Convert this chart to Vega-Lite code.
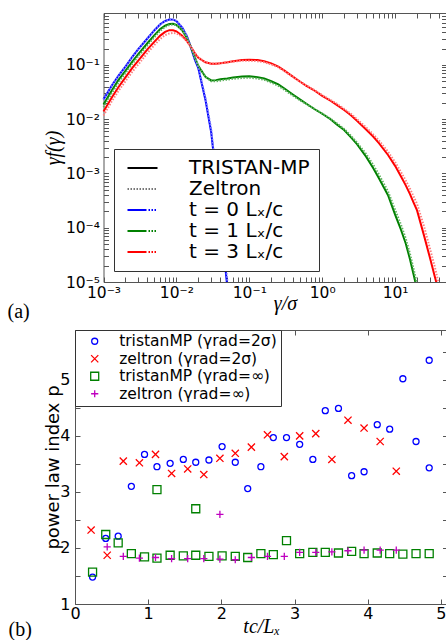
{
  "$schema": "https://vega.github.io/schema/vega-lite/v6.json",
  "padding": {"left": 7, "top": 6, "right": 0, "bottom": 0},
  "spacing": 7,
  "resolve": {"scale": {"color": "independent", "shape": "independent", "strokeDash": "independent", "stroke": "independent"}, "legend": {"color": "independent", "shape": "independent", "strokeDash": "independent", "stroke": "independent"}},
  "config": {
    "view": {"stroke": null},
    "axis": {"grid": false, "domainColor": "#555555", "tickColor": "#555555", "domainWidth": 1, "tickWidth": 1, "labelColor": "black", "labelFont": "DejaVu Sans", "labelOverlap": false, "labelFlush": false, "titleColor": "black", "titleFontWeight": "normal"},
    "legend": {"labelColor": "black", "labelFont": "DejaVu Sans", "labelLimit": 0}
  },
  "datasets": {
    "lines": [
      {"code": "T", "series": "T0", "x": 0.001, "y": 0.0232},
      {"code": "T", "series": "T0", "x": 0.0013, "y": 0.0417},
      {"code": "T", "series": "T0", "x": 0.0016, "y": 0.0631},
      {"code": "T", "series": "T0", "x": 0.002, "y": 0.0933},
      {"code": "T", "series": "T0", "x": 0.0025, "y": 0.143},
      {"code": "T", "series": "T0", "x": 0.003, "y": 0.195},
      {"code": "T", "series": "T0", "x": 0.004, "y": 0.307},
      {"code": "T", "series": "T0", "x": 0.005, "y": 0.437},
      {"code": "T", "series": "T0", "x": 0.006, "y": 0.562},
      {"code": "T", "series": "T0", "x": 0.007, "y": 0.646},
      {"code": "T", "series": "T0", "x": 0.008, "y": 0.689},
      {"code": "T", "series": "T0", "x": 0.009, "y": 0.684},
      {"code": "T", "series": "T0", "x": 0.01, "y": 0.646},
      {"code": "T", "series": "T0", "x": 0.012, "y": 0.49},
      {"code": "T", "series": "T0", "x": 0.014, "y": 0.331},
      {"code": "T", "series": "T0", "x": 0.016, "y": 0.2},
      {"code": "T", "series": "T0", "x": 0.018, "y": 0.123},
      {"code": "T", "series": "T0", "x": 0.02, "y": 0.0871},
      {"code": "T", "series": "T0", "x": 0.0225, "y": 0.0427},
      {"code": "T", "series": "T0", "x": 0.025, "y": 0.0229},
      {"code": "T", "series": "T0", "x": 0.03, "y": 0.00575},
      {"code": "T", "series": "T0", "x": 0.035, "y": 0.000891},
      {"code": "T", "series": "T0", "x": 0.04, "y": 0.000148},
      {"code": "T", "series": "T0", "x": 0.045, "y": 0.0000324},
      {"code": "T", "series": "T0", "x": 0.05, "y": 0.0000079},

      {"code": "Z", "series": "Z0", "x": 0.001, "y": 0.0229},
      {"code": "Z", "series": "Z0", "x": 0.0013, "y": 0.0412},
      {"code": "Z", "series": "Z0", "x": 0.0016, "y": 0.0625},
      {"code": "Z", "series": "Z0", "x": 0.002, "y": 0.0925},
      {"code": "Z", "series": "Z0", "x": 0.0025, "y": 0.141},
      {"code": "Z", "series": "Z0", "x": 0.003, "y": 0.193},
      {"code": "Z", "series": "Z0", "x": 0.004, "y": 0.304},
      {"code": "Z", "series": "Z0", "x": 0.005, "y": 0.433},
      {"code": "Z", "series": "Z0", "x": 0.006, "y": 0.557},
      {"code": "Z", "series": "Z0", "x": 0.007, "y": 0.641},
      {"code": "Z", "series": "Z0", "x": 0.008, "y": 0.685},
      {"code": "Z", "series": "Z0", "x": 0.009, "y": 0.682},
      {"code": "Z", "series": "Z0", "x": 0.01, "y": 0.648},
      {"code": "Z", "series": "Z0", "x": 0.012, "y": 0.497},
      {"code": "Z", "series": "Z0", "x": 0.014, "y": 0.339},
      {"code": "Z", "series": "Z0", "x": 0.016, "y": 0.207},
      {"code": "Z", "series": "Z0", "x": 0.018, "y": 0.128},
      {"code": "Z", "series": "Z0", "x": 0.02, "y": 0.0912},
      {"code": "Z", "series": "Z0", "x": 0.0225, "y": 0.0457},
      {"code": "Z", "series": "Z0", "x": 0.025, "y": 0.0251},
      {"code": "Z", "series": "Z0", "x": 0.03, "y": 0.0066},
      {"code": "Z", "series": "Z0", "x": 0.035, "y": 0.00105},
      {"code": "Z", "series": "Z0", "x": 0.04, "y": 0.000182},
      {"code": "Z", "series": "Z0", "x": 0.045, "y": 0.0000417},
      {"code": "Z", "series": "Z0", "x": 0.05, "y": 0.0000105},

      {"code": "T", "series": "T1", "x": 0.001, "y": 0.0186},
      {"code": "T", "series": "T1", "x": 0.0013, "y": 0.0339},
      {"code": "T", "series": "T1", "x": 0.0016, "y": 0.0525},
      {"code": "T", "series": "T1", "x": 0.002, "y": 0.0776},
      {"code": "T", "series": "T1", "x": 0.0025, "y": 0.116},
      {"code": "T", "series": "T1", "x": 0.003, "y": 0.158},
      {"code": "T", "series": "T1", "x": 0.004, "y": 0.251},
      {"code": "T", "series": "T1", "x": 0.005, "y": 0.355},
      {"code": "T", "series": "T1", "x": 0.006, "y": 0.457},
      {"code": "T", "series": "T1", "x": 0.007, "y": 0.531},
      {"code": "T", "series": "T1", "x": 0.008, "y": 0.571},
      {"code": "T", "series": "T1", "x": 0.009, "y": 0.575},
      {"code": "T", "series": "T1", "x": 0.01, "y": 0.55},
      {"code": "T", "series": "T1", "x": 0.012, "y": 0.437},
      {"code": "T", "series": "T1", "x": 0.014, "y": 0.309},
      {"code": "T", "series": "T1", "x": 0.016, "y": 0.204},
      {"code": "T", "series": "T1", "x": 0.018, "y": 0.135},
      {"code": "T", "series": "T1", "x": 0.02, "y": 0.0955},
      {"code": "T", "series": "T1", "x": 0.025, "y": 0.0603},
      {"code": "T", "series": "T1", "x": 0.03, "y": 0.0519},
      {"code": "T", "series": "T1", "x": 0.035, "y": 0.0525},
      {"code": "T", "series": "T1", "x": 0.04, "y": 0.0543},
      {"code": "T", "series": "T1", "x": 0.05, "y": 0.0562},
      {"code": "T", "series": "T1", "x": 0.06, "y": 0.0589},
      {"code": "T", "series": "T1", "x": 0.08, "y": 0.061},
      {"code": "T", "series": "T1", "x": 0.1, "y": 0.0617},
      {"code": "T", "series": "T1", "x": 0.13, "y": 0.0596},
      {"code": "T", "series": "T1", "x": 0.16, "y": 0.0562},
      {"code": "T", "series": "T1", "x": 0.2, "y": 0.0501},
      {"code": "T", "series": "T1", "x": 0.25, "y": 0.0437},
      {"code": "T", "series": "T1", "x": 0.3, "y": 0.0372},
      {"code": "T", "series": "T1", "x": 0.4, "y": 0.0282},
      {"code": "T", "series": "T1", "x": 0.5, "y": 0.0229},
      {"code": "T", "series": "T1", "x": 0.6, "y": 0.0195},
      {"code": "T", "series": "T1", "x": 0.8, "y": 0.0151},
      {"code": "T", "series": "T1", "x": 1, "y": 0.0126},
      {"code": "T", "series": "T1", "x": 1.3, "y": 0.01},
      {"code": "T", "series": "T1", "x": 1.6, "y": 0.00794},
      {"code": "T", "series": "T1", "x": 2, "y": 0.00631},
      {"code": "T", "series": "T1", "x": 2.5, "y": 0.00457},
      {"code": "T", "series": "T1", "x": 3, "y": 0.00347},
      {"code": "T", "series": "T1", "x": 4, "y": 0.00204},
      {"code": "T", "series": "T1", "x": 5, "y": 0.00126},
      {"code": "T", "series": "T1", "x": 6, "y": 0.000813},
      {"code": "T", "series": "T1", "x": 8, "y": 0.000398},
      {"code": "T", "series": "T1", "x": 10, "y": 0.000174},
      {"code": "T", "series": "T1", "x": 12, "y": 0.0000933},
      {"code": "T", "series": "T1", "x": 14, "y": 0.0000513},
      {"code": "T", "series": "T1", "x": 16, "y": 0.0000263},
      {"code": "T", "series": "T1", "x": 18, "y": 0.0000135},
      {"code": "T", "series": "T1", "x": 19, "y": 0.0000098},

      {"code": "Z", "series": "Z1", "x": 0.001, "y": 0.0166},
      {"code": "Z", "series": "Z1", "x": 0.0013, "y": 0.0302},
      {"code": "Z", "series": "Z1", "x": 0.0016, "y": 0.0468},
      {"code": "Z", "series": "Z1", "x": 0.002, "y": 0.0708},
      {"code": "Z", "series": "Z1", "x": 0.0025, "y": 0.106},
      {"code": "Z", "series": "Z1", "x": 0.003, "y": 0.145},
      {"code": "Z", "series": "Z1", "x": 0.004, "y": 0.229},
      {"code": "Z", "series": "Z1", "x": 0.005, "y": 0.327},
      {"code": "Z", "series": "Z1", "x": 0.006, "y": 0.427},
      {"code": "Z", "series": "Z1", "x": 0.007, "y": 0.501},
      {"code": "Z", "series": "Z1", "x": 0.008, "y": 0.543},
      {"code": "Z", "series": "Z1", "x": 0.009, "y": 0.556},
      {"code": "Z", "series": "Z1", "x": 0.01, "y": 0.537},
      {"code": "Z", "series": "Z1", "x": 0.012, "y": 0.437},
      {"code": "Z", "series": "Z1", "x": 0.014, "y": 0.316},
      {"code": "Z", "series": "Z1", "x": 0.016, "y": 0.209},
      {"code": "Z", "series": "Z1", "x": 0.018, "y": 0.138},
      {"code": "Z", "series": "Z1", "x": 0.02, "y": 0.0977},
      {"code": "Z", "series": "Z1", "x": 0.025, "y": 0.0603},
      {"code": "Z", "series": "Z1", "x": 0.03, "y": 0.0501},
      {"code": "Z", "series": "Z1", "x": 0.035, "y": 0.0501},
      {"code": "Z", "series": "Z1", "x": 0.04, "y": 0.0513},
      {"code": "Z", "series": "Z1", "x": 0.05, "y": 0.0537},
      {"code": "Z", "series": "Z1", "x": 0.06, "y": 0.0556},
      {"code": "Z", "series": "Z1", "x": 0.08, "y": 0.0575},
      {"code": "Z", "series": "Z1", "x": 0.1, "y": 0.0582},
      {"code": "Z", "series": "Z1", "x": 0.13, "y": 0.0562},
      {"code": "Z", "series": "Z1", "x": 0.16, "y": 0.0531},
      {"code": "Z", "series": "Z1", "x": 0.2, "y": 0.0473},
      {"code": "Z", "series": "Z1", "x": 0.25, "y": 0.0412},
      {"code": "Z", "series": "Z1", "x": 0.3, "y": 0.0351},
      {"code": "Z", "series": "Z1", "x": 0.4, "y": 0.0269},
      {"code": "Z", "series": "Z1", "x": 0.5, "y": 0.0221},
      {"code": "Z", "series": "Z1", "x": 0.6, "y": 0.0191},
      {"code": "Z", "series": "Z1", "x": 0.8, "y": 0.0151},
      {"code": "Z", "series": "Z1", "x": 1, "y": 0.0127},
      {"code": "Z", "series": "Z1", "x": 1.3, "y": 0.0102},
      {"code": "Z", "series": "Z1", "x": 1.6, "y": 0.00832},
      {"code": "Z", "series": "Z1", "x": 2, "y": 0.00661},
      {"code": "Z", "series": "Z1", "x": 2.5, "y": 0.0049},
      {"code": "Z", "series": "Z1", "x": 3, "y": 0.00372},
      {"code": "Z", "series": "Z1", "x": 4, "y": 0.00229},
      {"code": "Z", "series": "Z1", "x": 5, "y": 0.00145},
      {"code": "Z", "series": "Z1", "x": 6, "y": 0.000955},
      {"code": "Z", "series": "Z1", "x": 8, "y": 0.000468},
      {"code": "Z", "series": "Z1", "x": 10, "y": 0.000214},
      {"code": "Z", "series": "Z1", "x": 12, "y": 0.000115},
      {"code": "Z", "series": "Z1", "x": 14, "y": 0.0000631},
      {"code": "Z", "series": "Z1", "x": 16, "y": 0.0000331},
      {"code": "Z", "series": "Z1", "x": 18, "y": 0.000017},
      {"code": "Z", "series": "Z1", "x": 20, "y": 0.0000093},

      {"code": "T", "series": "T3", "x": 0.001, "y": 0.0139},
      {"code": "T", "series": "T3", "x": 0.0013, "y": 0.0251},
      {"code": "T", "series": "T3", "x": 0.0016, "y": 0.0389},
      {"code": "T", "series": "T3", "x": 0.002, "y": 0.0589},
      {"code": "T", "series": "T3", "x": 0.0025, "y": 0.0891},
      {"code": "T", "series": "T3", "x": 0.003, "y": 0.12},
      {"code": "T", "series": "T3", "x": 0.004, "y": 0.193},
      {"code": "T", "series": "T3", "x": 0.005, "y": 0.269},
      {"code": "T", "series": "T3", "x": 0.006, "y": 0.347},
      {"code": "T", "series": "T3", "x": 0.007, "y": 0.407},
      {"code": "T", "series": "T3", "x": 0.008, "y": 0.437},
      {"code": "T", "series": "T3", "x": 0.009, "y": 0.437},
      {"code": "T", "series": "T3", "x": 0.01, "y": 0.417},
      {"code": "T", "series": "T3", "x": 0.012, "y": 0.347},
      {"code": "T", "series": "T3", "x": 0.014, "y": 0.275},
      {"code": "T", "series": "T3", "x": 0.016, "y": 0.209},
      {"code": "T", "series": "T3", "x": 0.018, "y": 0.162},
      {"code": "T", "series": "T3", "x": 0.02, "y": 0.135},
      {"code": "T", "series": "T3", "x": 0.025, "y": 0.112},
      {"code": "T", "series": "T3", "x": 0.03, "y": 0.105},
      {"code": "T", "series": "T3", "x": 0.035, "y": 0.105},
      {"code": "T", "series": "T3", "x": 0.04, "y": 0.107},
      {"code": "T", "series": "T3", "x": 0.05, "y": 0.112},
      {"code": "T", "series": "T3", "x": 0.06, "y": 0.117},
      {"code": "T", "series": "T3", "x": 0.08, "y": 0.123},
      {"code": "T", "series": "T3", "x": 0.1, "y": 0.124},
      {"code": "T", "series": "T3", "x": 0.13, "y": 0.123},
      {"code": "T", "series": "T3", "x": 0.16, "y": 0.117},
      {"code": "T", "series": "T3", "x": 0.2, "y": 0.107},
      {"code": "T", "series": "T3", "x": 0.25, "y": 0.0933},
      {"code": "T", "series": "T3", "x": 0.3, "y": 0.0794},
      {"code": "T", "series": "T3", "x": 0.4, "y": 0.0603},
      {"code": "T", "series": "T3", "x": 0.5, "y": 0.049},
      {"code": "T", "series": "T3", "x": 0.6, "y": 0.0417},
      {"code": "T", "series": "T3", "x": 0.8, "y": 0.0331},
      {"code": "T", "series": "T3", "x": 1, "y": 0.0269},
      {"code": "T", "series": "T3", "x": 1.3, "y": 0.0219},
      {"code": "T", "series": "T3", "x": 1.6, "y": 0.0182},
      {"code": "T", "series": "T3", "x": 2, "y": 0.0148},
      {"code": "T", "series": "T3", "x": 2.5, "y": 0.0117},
      {"code": "T", "series": "T3", "x": 3, "y": 0.00933},
      {"code": "T", "series": "T3", "x": 4, "y": 0.00646},
      {"code": "T", "series": "T3", "x": 5, "y": 0.00479},
      {"code": "T", "series": "T3", "x": 6, "y": 0.00363},
      {"code": "T", "series": "T3", "x": 8, "y": 0.00219},
      {"code": "T", "series": "T3", "x": 10, "y": 0.00138},
      {"code": "T", "series": "T3", "x": 12, "y": 0.000891},
      {"code": "T", "series": "T3", "x": 14, "y": 0.000603},
      {"code": "T", "series": "T3", "x": 16, "y": 0.000417},
      {"code": "T", "series": "T3", "x": 18, "y": 0.000288},
      {"code": "T", "series": "T3", "x": 20, "y": 0.000209},
      {"code": "T", "series": "T3", "x": 25, "y": 0.0000708},
      {"code": "T", "series": "T3", "x": 30, "y": 0.0000282},
      {"code": "T", "series": "T3", "x": 35, "y": 0.0000126},
      {"code": "T", "series": "T3", "x": 37, "y": 0.0000095},

      {"code": "Z", "series": "Z3", "x": 0.001, "y": 0.0117},
      {"code": "Z", "series": "Z3", "x": 0.0013, "y": 0.0214},
      {"code": "Z", "series": "Z3", "x": 0.0016, "y": 0.0331},
      {"code": "Z", "series": "Z3", "x": 0.002, "y": 0.0501},
      {"code": "Z", "series": "Z3", "x": 0.0025, "y": 0.0759},
      {"code": "Z", "series": "Z3", "x": 0.003, "y": 0.102},
      {"code": "Z", "series": "Z3", "x": 0.004, "y": 0.166},
      {"code": "Z", "series": "Z3", "x": 0.005, "y": 0.234},
      {"code": "Z", "series": "Z3", "x": 0.006, "y": 0.302},
      {"code": "Z", "series": "Z3", "x": 0.007, "y": 0.355},
      {"code": "Z", "series": "Z3", "x": 0.008, "y": 0.38},
      {"code": "Z", "series": "Z3", "x": 0.009, "y": 0.389},
      {"code": "Z", "series": "Z3", "x": 0.01, "y": 0.38},
      {"code": "Z", "series": "Z3", "x": 0.012, "y": 0.331},
      {"code": "Z", "series": "Z3", "x": 0.014, "y": 0.269},
      {"code": "Z", "series": "Z3", "x": 0.016, "y": 0.209},
      {"code": "Z", "series": "Z3", "x": 0.018, "y": 0.166},
      {"code": "Z", "series": "Z3", "x": 0.02, "y": 0.138},
      {"code": "Z", "series": "Z3", "x": 0.025, "y": 0.112},
      {"code": "Z", "series": "Z3", "x": 0.03, "y": 0.106},
      {"code": "Z", "series": "Z3", "x": 0.035, "y": 0.106},
      {"code": "Z", "series": "Z3", "x": 0.04, "y": 0.107},
      {"code": "Z", "series": "Z3", "x": 0.05, "y": 0.111},
      {"code": "Z", "series": "Z3", "x": 0.06, "y": 0.115},
      {"code": "Z", "series": "Z3", "x": 0.08, "y": 0.119},
      {"code": "Z", "series": "Z3", "x": 0.1, "y": 0.12},
      {"code": "Z", "series": "Z3", "x": 0.13, "y": 0.117},
      {"code": "Z", "series": "Z3", "x": 0.16, "y": 0.112},
      {"code": "Z", "series": "Z3", "x": 0.2, "y": 0.102},
      {"code": "Z", "series": "Z3", "x": 0.25, "y": 0.0902},
      {"code": "Z", "series": "Z3", "x": 0.3, "y": 0.0776},
      {"code": "Z", "series": "Z3", "x": 0.4, "y": 0.0596},
      {"code": "Z", "series": "Z3", "x": 0.5, "y": 0.049},
      {"code": "Z", "series": "Z3", "x": 0.6, "y": 0.0422},
      {"code": "Z", "series": "Z3", "x": 0.8, "y": 0.0339},
      {"code": "Z", "series": "Z3", "x": 1, "y": 0.0279},
      {"code": "Z", "series": "Z3", "x": 1.3, "y": 0.0226},
      {"code": "Z", "series": "Z3", "x": 1.6, "y": 0.0191},
      {"code": "Z", "series": "Z3", "x": 2, "y": 0.0155},
      {"code": "Z", "series": "Z3", "x": 2.5, "y": 0.0124},
      {"code": "Z", "series": "Z3", "x": 3, "y": 0.01},
      {"code": "Z", "series": "Z3", "x": 4, "y": 0.00708},
      {"code": "Z", "series": "Z3", "x": 5, "y": 0.00525},
      {"code": "Z", "series": "Z3", "x": 6, "y": 0.00407},
      {"code": "Z", "series": "Z3", "x": 8, "y": 0.00251},
      {"code": "Z", "series": "Z3", "x": 10, "y": 0.00162},
      {"code": "Z", "series": "Z3", "x": 12, "y": 0.00107},
      {"code": "Z", "series": "Z3", "x": 14, "y": 0.000741},
      {"code": "Z", "series": "Z3", "x": 16, "y": 0.000525},
      {"code": "Z", "series": "Z3", "x": 18, "y": 0.000372},
      {"code": "Z", "series": "Z3", "x": 20, "y": 0.000275},
      {"code": "Z", "series": "Z3", "x": 25, "y": 0.000105},
      {"code": "Z", "series": "Z3", "x": 30, "y": 0.0000417},
      {"code": "Z", "series": "Z3", "x": 35, "y": 0.0000191},
      {"code": "Z", "series": "Z3", "x": 40, "y": 0.0000089}
    ],
    "pts": [
      {"rad": "2s", "series": "tristanMP (γrad=2σ)", "t": 0.24, "p": 1.48},
      {"rad": "2s", "series": "tristanMP (γrad=2σ)", "t": 0.42, "p": 2.17},
      {"rad": "2s", "series": "tristanMP (γrad=2σ)", "t": 0.59, "p": 2.21},
      {"rad": "2s", "series": "tristanMP (γrad=2σ)", "t": 0.77, "p": 3.1},
      {"rad": "2s", "series": "tristanMP (γrad=2σ)", "t": 0.95, "p": 3.67},
      {"rad": "2s", "series": "tristanMP (γrad=2σ)", "t": 1.12, "p": 3.45},
      {"rad": "2s", "series": "tristanMP (γrad=2σ)", "t": 1.3, "p": 3.51},
      {"rad": "2s", "series": "tristanMP (γrad=2σ)", "t": 1.48, "p": 3.58},
      {"rad": "2s", "series": "tristanMP (γrad=2σ)", "t": 1.65, "p": 3.53},
      {"rad": "2s", "series": "tristanMP (γrad=2σ)", "t": 1.83, "p": 3.57},
      {"rad": "2s", "series": "tristanMP (γrad=2σ)", "t": 2.01, "p": 3.81},
      {"rad": "2s", "series": "tristanMP (γrad=2σ)", "t": 2.19, "p": 3.53},
      {"rad": "2s", "series": "tristanMP (γrad=2σ)", "t": 2.36, "p": 3.06},
      {"rad": "2s", "series": "tristanMP (γrad=2σ)", "t": 2.54, "p": 3.45},
      {"rad": "2s", "series": "tristanMP (γrad=2σ)", "t": 2.71, "p": 3.97},
      {"rad": "2s", "series": "tristanMP (γrad=2σ)", "t": 2.89, "p": 3.97},
      {"rad": "2s", "series": "tristanMP (γrad=2σ)", "t": 3.07, "p": 3.85},
      {"rad": "2s", "series": "tristanMP (γrad=2σ)", "t": 3.25, "p": 3.58},
      {"rad": "2s", "series": "tristanMP (γrad=2σ)", "t": 3.42, "p": 4.45},
      {"rad": "2s", "series": "tristanMP (γrad=2σ)", "t": 3.6, "p": 4.49},
      {"rad": "2s", "series": "tristanMP (γrad=2σ)", "t": 3.78, "p": 3.29},
      {"rad": "2s", "series": "tristanMP (γrad=2σ)", "t": 3.95, "p": 3.36},
      {"rad": "2s", "series": "tristanMP (γrad=2σ)", "t": 4.13, "p": 4.2},
      {"rad": "2s", "series": "tristanMP (γrad=2σ)", "t": 4.3, "p": 4.12},
      {"rad": "2s", "series": "tristanMP (γrad=2σ)", "t": 4.48, "p": 5.02},
      {"rad": "2s", "series": "tristanMP (γrad=2σ)", "t": 4.66, "p": 3.9},
      {"rad": "2s", "series": "tristanMP (γrad=2σ)", "t": 4.84, "p": 5.35},
      {"rad": "2s", "series": "tristanMP (γrad=2σ)", "t": 4.84, "p": 3.43},
      {"rad": "2s", "series": "zeltron (γrad=2σ)", "t": 0.22, "p": 2.32},
      {"rad": "2s", "series": "zeltron (γrad=2σ)", "t": 0.44, "p": 1.87},
      {"rad": "2s", "series": "zeltron (γrad=2σ)", "t": 0.66, "p": 3.55},
      {"rad": "2s", "series": "zeltron (γrad=2σ)", "t": 0.88, "p": 3.52},
      {"rad": "2s", "series": "zeltron (γrad=2σ)", "t": 1.1, "p": 3.67},
      {"rad": "2s", "series": "zeltron (γrad=2σ)", "t": 1.32, "p": 3.33},
      {"rad": "2s", "series": "zeltron (γrad=2σ)", "t": 1.54, "p": 3.41},
      {"rad": "2s", "series": "zeltron (γrad=2σ)", "t": 1.76, "p": 3.31},
      {"rad": "2s", "series": "zeltron (γrad=2σ)", "t": 1.98, "p": 3.6},
      {"rad": "2s", "series": "zeltron (γrad=2σ)", "t": 2.19, "p": 3.69},
      {"rad": "2s", "series": "zeltron (γrad=2σ)", "t": 2.41, "p": 3.8},
      {"rad": "2s", "series": "zeltron (γrad=2σ)", "t": 2.63, "p": 4.02},
      {"rad": "2s", "series": "zeltron (γrad=2σ)", "t": 2.86, "p": 3.63},
      {"rad": "2s", "series": "zeltron (γrad=2σ)", "t": 3.07, "p": 4.0},
      {"rad": "2s", "series": "zeltron (γrad=2σ)", "t": 3.29, "p": 4.04},
      {"rad": "2s", "series": "zeltron (γrad=2σ)", "t": 3.51, "p": 3.58},
      {"rad": "2s", "series": "zeltron (γrad=2σ)", "t": 3.73, "p": 4.28},
      {"rad": "2s", "series": "zeltron (γrad=2σ)", "t": 3.95, "p": 4.14},
      {"rad": "2s", "series": "zeltron (γrad=2σ)", "t": 4.17, "p": 3.9},
      {"rad": "2s", "series": "zeltron (γrad=2σ)", "t": 4.39, "p": 3.37},
      {"rad": "inf", "series": "tristanMP (γrad=∞)", "t": 0.24, "p": 1.57},
      {"rad": "inf", "series": "tristanMP (γrad=∞)", "t": 0.42, "p": 2.24},
      {"rad": "inf", "series": "tristanMP (γrad=∞)", "t": 0.59, "p": 2.09},
      {"rad": "inf", "series": "tristanMP (γrad=∞)", "t": 0.77, "p": 1.9},
      {"rad": "inf", "series": "tristanMP (γrad=∞)", "t": 0.95, "p": 1.84},
      {"rad": "inf", "series": "tristanMP (γrad=∞)", "t": 1.12, "p": 3.04},
      {"rad": "inf", "series": "tristanMP (γrad=∞)", "t": 1.12, "p": 1.82},
      {"rad": "inf", "series": "tristanMP (γrad=∞)", "t": 1.3, "p": 1.87},
      {"rad": "inf", "series": "tristanMP (γrad=∞)", "t": 1.48, "p": 1.86},
      {"rad": "inf", "series": "tristanMP (γrad=∞)", "t": 1.65, "p": 1.87},
      {"rad": "inf", "series": "tristanMP (γrad=∞)", "t": 1.65, "p": 2.7},
      {"rad": "inf", "series": "tristanMP (γrad=∞)", "t": 1.83, "p": 1.85},
      {"rad": "inf", "series": "tristanMP (γrad=∞)", "t": 2.01, "p": 1.86},
      {"rad": "inf", "series": "tristanMP (γrad=∞)", "t": 2.19, "p": 1.85},
      {"rad": "inf", "series": "tristanMP (γrad=∞)", "t": 2.36, "p": 1.83},
      {"rad": "inf", "series": "tristanMP (γrad=∞)", "t": 2.54, "p": 1.9},
      {"rad": "inf", "series": "tristanMP (γrad=∞)", "t": 2.71, "p": 1.88},
      {"rad": "inf", "series": "tristanMP (γrad=∞)", "t": 2.89, "p": 2.13},
      {"rad": "inf", "series": "tristanMP (γrad=∞)", "t": 3.07, "p": 1.9},
      {"rad": "inf", "series": "tristanMP (γrad=∞)", "t": 3.25, "p": 1.92},
      {"rad": "inf", "series": "tristanMP (γrad=∞)", "t": 3.42, "p": 1.92},
      {"rad": "inf", "series": "tristanMP (γrad=∞)", "t": 3.6, "p": 1.91},
      {"rad": "inf", "series": "tristanMP (γrad=∞)", "t": 3.78, "p": 1.94},
      {"rad": "inf", "series": "tristanMP (γrad=∞)", "t": 3.95, "p": 1.9},
      {"rad": "inf", "series": "tristanMP (γrad=∞)", "t": 4.13, "p": 1.91},
      {"rad": "inf", "series": "tristanMP (γrad=∞)", "t": 4.3, "p": 1.9},
      {"rad": "inf", "series": "tristanMP (γrad=∞)", "t": 4.48, "p": 1.89},
      {"rad": "inf", "series": "tristanMP (γrad=∞)", "t": 4.66, "p": 1.9},
      {"rad": "inf", "series": "tristanMP (γrad=∞)", "t": 4.84, "p": 1.9},
      {"rad": "inf", "series": "zeltron (γrad=∞)", "t": 0.22, "p": 4.61},
      {"rad": "inf", "series": "zeltron (γrad=∞)", "t": 0.44, "p": 2.02},
      {"rad": "inf", "series": "zeltron (γrad=∞)", "t": 0.66, "p": 1.85},
      {"rad": "inf", "series": "zeltron (γrad=∞)", "t": 0.88, "p": 1.82},
      {"rad": "inf", "series": "zeltron (γrad=∞)", "t": 1.1, "p": 1.83},
      {"rad": "inf", "series": "zeltron (γrad=∞)", "t": 1.32, "p": 1.81},
      {"rad": "inf", "series": "zeltron (γrad=∞)", "t": 1.54, "p": 1.81},
      {"rad": "inf", "series": "zeltron (γrad=∞)", "t": 1.76, "p": 1.81},
      {"rad": "inf", "series": "zeltron (γrad=∞)", "t": 1.98, "p": 2.6},
      {"rad": "inf", "series": "zeltron (γrad=∞)", "t": 1.98, "p": 1.8},
      {"rad": "inf", "series": "zeltron (γrad=∞)", "t": 2.19, "p": 1.79},
      {"rad": "inf", "series": "zeltron (γrad=∞)", "t": 2.41, "p": 1.83},
      {"rad": "inf", "series": "zeltron (γrad=∞)", "t": 2.63, "p": 1.85},
      {"rad": "inf", "series": "zeltron (γrad=∞)", "t": 2.86, "p": 1.85},
      {"rad": "inf", "series": "zeltron (γrad=∞)", "t": 3.07, "p": 1.92},
      {"rad": "inf", "series": "zeltron (γrad=∞)", "t": 3.29, "p": 1.92},
      {"rad": "inf", "series": "zeltron (γrad=∞)", "t": 3.51, "p": 1.93},
      {"rad": "inf", "series": "zeltron (γrad=∞)", "t": 3.73, "p": 1.95},
      {"rad": "inf", "series": "zeltron (γrad=∞)", "t": 3.95, "p": 1.96},
      {"rad": "inf", "series": "zeltron (γrad=∞)", "t": 4.17, "p": 1.96},
      {"rad": "inf", "series": "zeltron (γrad=∞)", "t": 4.39, "p": 1.96}
    ]
  },
  "vconcat": [
    {
      "width": 371.5,
      "height": 269,
      "title": {"text": "(a)", "orient": "bottom", "anchor": "start", "frame": "bounds", "dx": -36, "offset": 5, "baseline": "alphabetic", "font": "Liberation Serif", "fontSize": 20, "fontWeight": "normal", "color": "black"},
      "resolve": {"axis": {"x": "independent", "y": "independent"}},
      "layer": [
        {
          "data": {"name": "lines"},
          "transform": [{"filter": "datum.code == 'T'"}],
          "mark": {"type": "line", "strokeWidth": 2, "clip": true},
          "encoding": {
            "x": {"field": "x", "type": "quantitative", "scale": {"type": "log", "domain": [0.001, 50.7], "range": [28.5, 371.5], "nice": false},
              "axis": {"orient": "bottom", "values": [0.001,0.002,0.003,0.004,0.005,0.006,0.007,0.008,0.009,0.01,0.02,0.03,0.04,0.05,0.06,0.07,0.08,0.09,0.1,0.2,0.3,0.4,0.5,0.6,0.7,0.8,0.9,1,2,3,4,5,6,7,8,9,10,20,30,40,50],
                "labelExpr": "datum.value == 0.001 ? '10⁻³' : datum.value == 0.01 ? '10⁻²' : datum.value == 0.1 ? '10⁻¹' : datum.value == 1 ? '10⁰' : datum.value == 10 ? '10¹' : ''",
                "tickSize": -5, "labelPadding": 8, "labelFontSize": 15.5,
                "title": "γ/σ", "titleFont": "Liberation Serif", "titleFontStyle": "italic", "titleFontSize": 20, "titleX": 210, "titleY": 27, "titleBaseline": "alphabetic",
                "encode": {"ticks": {"update": {"y2": {"signal": "indexof([0.001,0.01,0.1,1,10], datum.value) >= 0 ? -5 : -2.5"}}},
                           "labels": {"update": {"fontSize": {"signal": "indexof([0.001,0.01,0.1,1,10], datum.value) >= 0 ? 15.5 : 0"}}}}}},
            "y": {"field": "y", "type": "quantitative", "scale": {"type": "log", "domain": [0.00001, 0.906], "nice": false},
              "axis": {"orient": "left", "offset": -28.5, "values": [0.00001,0.00002,0.00003,0.00004,0.00005,0.00006,0.00007,0.00008,0.00009,0.0001,0.0002,0.0003,0.0004,0.0005,0.0006,0.0007,0.0008,0.0009,0.001,0.002,0.003,0.004,0.005,0.006,0.007,0.008,0.009,0.01,0.02,0.03,0.04,0.05,0.06,0.07,0.08,0.09,0.1,0.2,0.3,0.4,0.5,0.6,0.7,0.8,0.9],
                "labelExpr": "datum.value == 0.00001 ? '10⁻⁵' : datum.value == 0.0001 ? '10⁻⁴' : datum.value == 0.001 ? '10⁻³' : datum.value == 0.01 ? '10⁻²' : datum.value == 0.1 ? '10⁻¹' : ''",
                "tickSize": -5, "labelPadding": 9, "labelFontSize": 15.5,
                "title": "γf(γ)", "titleFont": "Liberation Serif", "titleFontStyle": "italic", "titleFontSize": 20, "titleX": -50, "titleBaseline": "middle",
                "encode": {"ticks": {"update": {"x2": {"signal": "indexof([0.00001,0.0001,0.001,0.01,0.1], datum.value) >= 0 ? 5 : 2.5"}}},
                           "labels": {"update": {"fontSize": {"signal": "indexof([0.00001,0.0001,0.001,0.01,0.1], datum.value) >= 0 ? 15.5 : 0"}}}}}},
            "stroke": {"field": "series", "type": "nominal", "scale": {"domain": ["T0","T1","T3","Z0","Z1","Z3"], "range": ["#0000ff","#008000","#ff0000","#7f7fff","#5fb35f","#ff7f7f"]}, "legend": null}
          }
        },
        {
          "data": {"name": "lines"},
          "transform": [{"filter": "datum.code == 'Z'"}],
          "mark": {"type": "line", "strokeWidth": 2, "strokeDash": [1.5, 1.5], "clip": true},
          "encoding": {
            "x": {"field": "x", "type": "quantitative", "scale": {"type": "log", "domain": [0.001, 50.7], "range": [28.5, 371.5], "nice": false},
              "axis": {"orient": "top", "values": [0.001,0.002,0.003,0.004,0.005,0.006,0.007,0.008,0.009,0.01,0.02,0.03,0.04,0.05,0.06,0.07,0.08,0.09,0.1,0.2,0.3,0.4,0.5,0.6,0.7,0.8,0.9,1,2,3,4,5,6,7,8,9,10,20,30,40,50],
                "labels": false, "tickSize": -5, "title": null,
                "encode": {"ticks": {"update": {"y2": {"signal": "indexof([0.001,0.01,0.1,1,10], datum.value) >= 0 ? 5 : 2.5"}}}}}},
            "y": {"field": "y", "type": "quantitative", "scale": {"type": "log", "domain": [0.00001, 0.906], "nice": false},
              "axis": {"orient": "right", "values": [0.00001,0.00002,0.00003,0.00004,0.00005,0.00006,0.00007,0.00008,0.00009,0.0001,0.0002,0.0003,0.0004,0.0005,0.0006,0.0007,0.0008,0.0009,0.001,0.002,0.003,0.004,0.005,0.006,0.007,0.008,0.009,0.01,0.02,0.03,0.04,0.05,0.06,0.07,0.08,0.09,0.1,0.2,0.3,0.4,0.5,0.6,0.7,0.8,0.9],
                "labels": false, "tickSize": -5, "title": null,
                "encode": {"ticks": {"update": {"x2": {"signal": "indexof([0.00001,0.0001,0.001,0.01,0.1], datum.value) >= 0 ? -5 : -2.5"}}}}}},
            "stroke": {"field": "series", "type": "nominal", "scale": {"domain": ["T0","T1","T3","Z0","Z1","Z3"], "range": ["#0000ff","#008000","#ff0000","#7f7fff","#5fb35f","#ff7f7f"]}, "legend": null}
          }
        },
        {
          "data": {"values": [{"label": "TRISTAN-MP"}, {"label": "Zeltron"}, {"label": "t = 0 Lₓ/c"}, {"label": "t = 1 Lₓ/c"}, {"label": "t = 3 Lₓ/c"}]},
          "mark": {"type": "line"},
          "encoding": {
            "color": {"field": "label", "type": "nominal",
              "scale": {"domain": ["TRISTAN-MP", "Zeltron", "t = 0 Lₓ/c", "t = 1 Lₓ/c", "t = 3 Lₓ/c"], "range": ["black", "#777777", "#0000ff", "#008000", "#ff0000"]},
              "legend": {"title": null, "orient": "none", "legendX": 39, "legendY": 136, "fillColor": "white", "strokeColor": "#333333", "padding": 9, "rowPadding": 1, "labelFontSize": 20, "symbolType": "M-3,0H3", "symbolSize": 100, "symbolStrokeWidth": 2, "symbolOffset": 9.5, "labelOffset": 36.5}},
            "strokeDash": {"field": "label", "type": "nominal",
              "scale": {"domain": ["TRISTAN-MP", "Zeltron", "t = 0 Lₓ/c", "t = 1 Lₓ/c", "t = 3 Lₓ/c"], "range": [[1, 0], [1.5, 1.5], [19, 2, 1.5, 1.5, 1.5, 1.5, 1.5, 1.5], [19, 2, 1.5, 1.5, 1.5, 1.5, 1.5, 1.5], [19, 2, 1.5, 1.5, 1.5, 1.5, 1.5, 1.5]]}}
          }
        }
      ]
    },
    {
      "width": 372.5,
      "height": 274,
      "title": {"text": "(b)", "orient": "bottom", "anchor": "start", "frame": "bounds", "dx": -36, "offset": 0, "baseline": "alphabetic", "font": "Liberation Serif", "fontSize": 20, "fontWeight": "normal", "color": "black"},
      "resolve": {"axis": {"x": "independent", "y": "independent"}},
      "layer": [
        {
          "data": {"name": "pts"},
          "transform": [{"filter": "datum.rad == '2s'"}],
          "mark": {"type": "point", "filled": false, "size": 64, "strokeWidth": 1.3, "opacity": 1},
          "encoding": {
            "x": {"field": "t", "type": "quantitative", "scale": {"domain": [0, 5.09], "nice": false, "zero": false},
              "axis": {"orient": "bottom", "values": [0, 1, 2, 3, 4, 5], "labelExpr": "format(datum.value, 'd')", "tickSize": -5, "labelPadding": 6, "labelFontSize": 16,
                "title": "tc/Lₓ", "titleFont": "Liberation Serif", "titleFontStyle": "italic", "titleFontSize": 20, "titleY": 28, "titleBaseline": "alphabetic"}},
            "y": {"field": "p", "type": "quantitative", "scale": {"domain": [1, 5.89], "nice": false, "zero": false},
              "axis": {"orient": "left", "values": [1, 1.5, 2, 2.5, 3, 3.5, 4, 4.5, 5, 5.5], "labelExpr": "datum.value % 1 == 0 ? format(datum.value, 'd') : ''", "tickSize": -5, "labelPadding": 10, "labelFontSize": 16,
                "title": "power law index p", "titleFont": "DejaVu Sans", "titleFontSize": 18, "titleX": -21.5, "titleBaseline": "middle",
                "encode": {"ticks": {"update": {"x2": {"signal": "datum.value % 1 == 0 ? 5 : 2.5"}}}}}},
            "color": {"field": "series", "type": "nominal",
              "scale": {"domain": ["tristanMP (γrad=2σ)", "zeltron (γrad=2σ)", "tristanMP (γrad=∞)", "zeltron (γrad=∞)"], "range": ["#0000ff", "#ff0000", "#008000", "#bf00bf"]},
              "legend": {"title": null, "orient": "none", "legendX": 0, "legendY": 0, "fillColor": "white", "strokeColor": "#333333", "padding": 3.5, "rowPadding": 0.5, "labelFontSize": 15.5, "symbolSize": 64, "symbolStrokeWidth": 1.3, "symbolOffset": 8.45, "labelOffset": 16.7}},
            "shape": {"field": "series", "type": "nominal",
              "scale": {"domain": ["tristanMP (γrad=2σ)", "zeltron (γrad=2σ)", "tristanMP (γrad=∞)", "zeltron (γrad=∞)"], "range": ["M0.75,0A0.75,0.75,0,1,1,-0.75,0A0.75,0.75,0,1,1,0.75,0Z", "M-0.9,-0.9L0.9,0.9M-0.9,0.9L0.9,-0.9", "square", "M-0.9,0H0.9M0,-0.9V0.9"]}}
          }
        },
        {
          "data": {"name": "pts"},
          "transform": [{"filter": "datum.rad == 'inf'"}],
          "mark": {"type": "point", "filled": false, "size": 64, "strokeWidth": 1.3, "opacity": 1},
          "encoding": {
            "x": {"field": "t", "type": "quantitative", "scale": {"domain": [0, 5.09], "nice": false, "zero": false},
              "axis": {"orient": "top", "values": [0, 1, 2, 3, 4, 5], "labels": false, "tickSize": -5, "title": null}},
            "y": {"field": "p", "type": "quantitative", "scale": {"domain": [1, 5.89], "nice": false, "zero": false},
              "axis": {"orient": "right", "values": [1, 1.5, 2, 2.5, 3, 3.5, 4, 4.5, 5, 5.5], "labels": false, "tickSize": -5, "title": null,
                "encode": {"ticks": {"update": {"x2": {"signal": "datum.value % 1 == 0 ? -5 : -2.5"}}}}}},
            "color": {"field": "series", "type": "nominal",
              "scale": {"domain": ["tristanMP (γrad=2σ)", "zeltron (γrad=2σ)", "tristanMP (γrad=∞)", "zeltron (γrad=∞)"], "range": ["#0000ff", "#ff0000", "#008000", "#bf00bf"]}},
            "shape": {"field": "series", "type": "nominal",
              "scale": {"domain": ["tristanMP (γrad=2σ)", "zeltron (γrad=2σ)", "tristanMP (γrad=∞)", "zeltron (γrad=∞)"], "range": ["M0.75,0A0.75,0.75,0,1,1,-0.75,0A0.75,0.75,0,1,1,0.75,0Z", "M-0.9,-0.9L0.9,0.9M-0.9,0.9L0.9,-0.9", "square", "M-0.9,0H0.9M0,-0.9V0.9"]}}
          }
        }
      ]
    }
  ]
}
